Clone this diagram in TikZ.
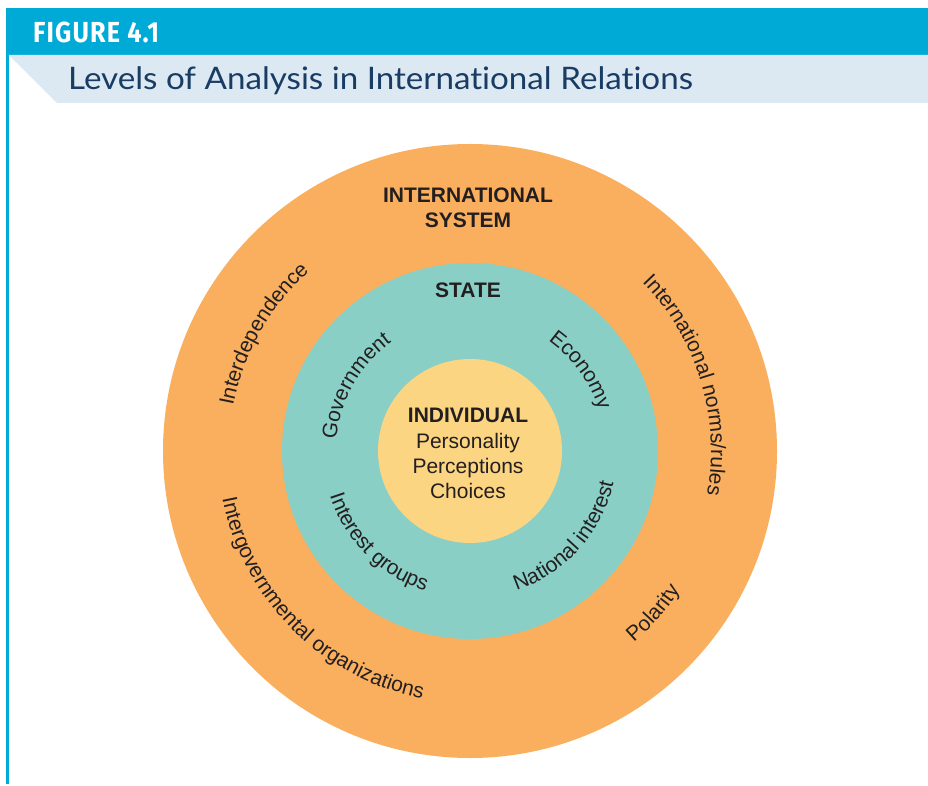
\documentclass[tikz,border=0pt]{standalone}
\usepackage{fontspec}
\setmainfont{Liberation Sans}
\newfontfamily\headfont[FakeStretch=0.87, LetterSpace=4]{Fira Sans}
\newfontfamily\titlefont[FakeStretch=1.07, Ligatures=NoCommon]{Lato}
\usetikzlibrary{positioning, calc, decorations.text}
\definecolor{figblue}{RGB}{0, 170, 214}
\definecolor{bandblue}{RGB}{220, 233, 242}
\definecolor{titlenavy}{RGB}{25, 60, 100}
\definecolor{sysorange}{RGB}{249, 175, 94}
\definecolor{stateteal}{RGB}{137, 207, 198}
\definecolor{indivyellow}{RGB}{252, 213, 130}
\definecolor{ink}{RGB}{35, 31, 32}
\newcommand{\lblfont}{\fontsize{21}{25}\selectfont}

\begin{document}
\begin{tikzpicture}[
  x=1pt, y=1pt,
  ring/.style={circle, draw=none, inner sep=0pt},
  lvl/.style={font=\lblfont\bfseries, text=ink, align=center, inner sep=0pt},
  item/.style={font=\lblfont, text=ink, align=center, inner sep=0pt},
  arclbl/.style={decorate, decoration={text along path, text align=center, text color=ink}}
]
  \useasboundingbox (0,0) rectangle (928,785);

  % header
  \fill[figblue] (6,730) rectangle (928,777);
  \fill[figblue] (6,1) rectangle (8.7,730);
  \fill[bandblue] (8.7,730) -- (928,730) -- (928,682) -- (57,682) -- cycle;
  \node[anchor=base west, inner sep=0pt, text=white, font={\headfont\bfseries\fontsize{29}{30}\selectfont}] (fignum) at (33,742) {FIGURE 4.1};
  \node[anchor=base west, inner sep=0pt, text=titlenavy, font={\titlefont\fontsize{31}{33}\selectfont}] (figtitle) at (68,695) {Levels of Analysis in International Relations};

  % levels
  \coordinate (ctr) at (470,334);
  \node[ring, fill=sysorange, minimum size=614pt] (sys) at (ctr) {};
  \node[ring, fill=stateteal, minimum size=376pt] (state) at (ctr) {};
  \node[ring, fill=indivyellow, minimum size=184pt] (indiv) at (ctr) {};

  \node[lvl, anchor=north] (sysname) at (468,597) {INTERNATIONAL\\SYSTEM};
  \node[lvl, anchor=north] (statename) at (468,502) {STATE};
  \node[lvl, anchor=north] (indivname) at (468,377) {INDIVIDUAL};
  \node[item, below=10pt of indivname] (indivitems) {Personality\\Perceptions\\Choices};

  % orange ring
  \path[arclbl, decoration={text={|\lblfont|Interdependence}}] ($(ctr)+(190.5:241pt)$) arc[start angle=190.5, end angle=110.5, radius=241pt];
  \path[arclbl, decoration={text={|\lblfont|International norms/rules}}] ($(ctr)+(57:241pt)$) arc[start angle=57, end angle=-23, radius=241pt];
  \path[arclbl, decoration={text={|\lblfont|Intergovernmental organizations}}] ($(ctr)+(165:252pt)$) arc[start angle=165, end angle=285, radius=252pt];
  \path[arclbl, decoration={text={|\lblfont|Polarity}}] ($(ctr)+(-101.5:252pt)$) arc[start angle=-101.5, end angle=18.5, radius=252pt];

  % teal ring
  \path[arclbl, decoration={text={|\lblfont|Government}}] ($(ctr)+(220.5:134pt)$) arc[start angle=220.5, end angle=80.5, radius=134pt];
  \path[arclbl, decoration={text={|\lblfont|Economy}}] ($(ctr)+(106:135pt)$) arc[start angle=106, end angle=-34, radius=135pt];
  \path[arclbl, decoration={text={|\lblfont|Interest groups}}] ($(ctr)+(155:147pt)$) arc[start angle=155, end angle=295, radius=147pt];
  \path[arclbl, decoration={text={|\lblfont|National interest}}] ($(ctr)+(-112:147pt)$) arc[start angle=-112, end angle=28, radius=147pt];
\end{tikzpicture}
\end{document}
